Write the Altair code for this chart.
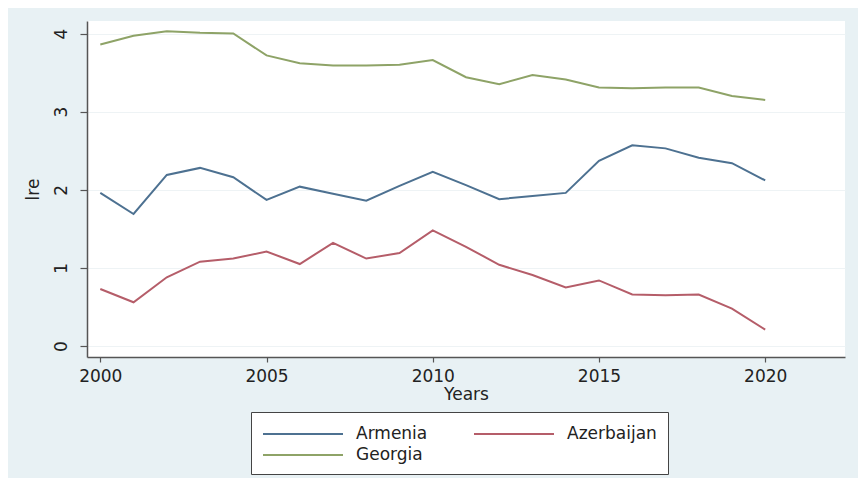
import altair as alt
import pandas as pd

years = list(range(2000, 2021))
armenia = [1.96, 1.69, 2.19, 2.28, 2.16, 1.87, 2.04, 1.95, 1.86, 2.05, 2.23,
           2.06, 1.88, 1.92, 1.96, 2.37, 2.57, 2.53, 2.41, 2.34, 2.12]
azerbaijan = [0.73, 0.56, 0.88, 1.08, 1.12, 1.21, 1.05, 1.32, 1.12, 1.19, 1.48,
              1.27, 1.04, 0.91, 0.75, 0.84, 0.66, 0.65, 0.66, 0.48, 0.21]
georgia = [3.86, 3.97, 4.03, 4.01, 4.00, 3.72, 3.62, 3.59, 3.59, 3.60, 3.66,
           3.44, 3.35, 3.47, 3.41, 3.31, 3.30, 3.31, 3.31, 3.20, 3.15]

countries = ["Armenia", "Azerbaijan", "Georgia"]
colors = ["#4d7191", "#b55d69", "#8ea367"]
x_ticks = [2000, 2005, 2010, 2015, 2020]
y_ticks = [0, 1, 2, 3, 4]

rows = []
for name, vals in zip(countries, [armenia, azerbaijan, georgia]):
    for yr, v in zip(years, vals):
        rows.append({"Years": yr, "lre": v, "country": name})
df = pd.DataFrame(rows)

FONT = "DejaVu Sans"

chart = alt.Chart(df).mark_line(strokeWidth=2).encode(
    x=alt.X("Years:Q",
            scale=alt.Scale(domain=[1999.6, 2022.4], nice=False, zero=False),
            axis=alt.Axis(values=x_ticks, format="d", grid=False, tickSize=5,
                          labelPadding=6, titlePadding=2)),
    y=alt.Y("lre:Q",
            scale=alt.Scale(domain=[-0.14, 4.16], nice=False, zero=False),
            axis=alt.Axis(values=y_ticks, grid=True, tickSize=7, labelAngle=270,
                          labelAlign="center", labelBaseline="bottom",
                          labelPadding=10, titlePadding=10)),
    color=alt.Color("country:N", title=None,
                    scale=alt.Scale(domain=countries, range=colors),
                    legend=alt.Legend(orient="none", legendX=164, legendY=391,
                                      direction="horizontal",
                                      columns=2, columnPadding=42, rowPadding=2,
                                      padding=11, strokeColor="#444",
                                      fillColor="white",
                                      symbolType="M-1,0H7", symbolSize=400,
                                      symbolStrokeWidth=2,
                                      symbolFillColor="transparent",
                                      labelOffset=72, labelFontSize=17,
                                      labelFont=FONT, labelColor="#222")),
).properties(
    width=758, height=336,
    padding={"left": 79, "top": 13, "right": 13, "bottom": 121},
    autosize=alt.AutoSizeParams(type="none"),
    background="#e8f1f4",
).configure_view(
    fill="white", stroke=None
).configure_axis(
    labelFont=FONT, titleFont=FONT, labelFontSize=17, titleFontSize=17,
    titleFontWeight="normal", labelColor="#222", titleColor="#222",
    domainColor="#555", domainWidth=1.5, tickColor="#555", tickWidth=1.2,
    gridColor="#eef3f5", gridWidth=1
)

chart.save("out.html", embed_options={"renderer": "svg", "actions": False})
